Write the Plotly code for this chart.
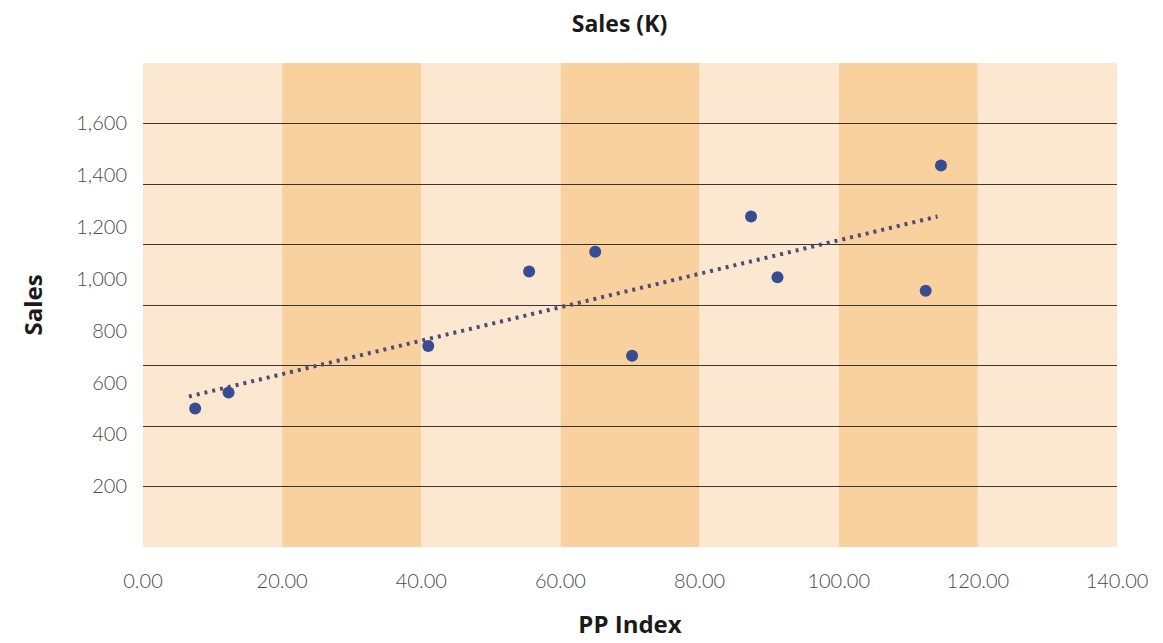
import numpy as np
import plotly.graph_objects as go

# ---- data ----
pp_index = [7.5, 12.3, 41.0, 55.5, 65.0, 70.3, 87.4, 91.2, 112.5, 114.7]
sales = [500, 562, 741, 1028, 1104, 703, 1240, 1006, 954, 1437]
trend_x = [6.6, 114.2]
x_ticks = [0, 20, 40, 60, 80, 100, 120, 140]
x_tick_text = ["0.00", "20.00", "40.00", "60.00", "80.00", "100.00", "120.00", "140.00"]
y_ticks = [200, 400, 600, 800, 1000, 1200, 1400, 1600]
y_tick_text = ["200", "400", "600", "800", "1,000", "1,200", "1,400", "1,600"]
band_edges = [0, 20, 40, 60, 80, 100, 120, 140]
grid_axis_range = [0, 1600]
grid_dtick = 200

LIGHT = "#FCE8D0"
DARK = "#F9D19F"

slope, intercept = np.polyfit(pp_index, sales, 1)
trend_y = [slope * x + intercept for x in trend_x]

fig = go.Figure()
fig.add_trace(go.Scatter(
    x=trend_x, y=trend_y, mode="lines",
    line=dict(color="#4E4A78", width=4, dash="3px,5px"),
    hoverinfo="skip", showlegend=False,
))
fig.add_trace(go.Scatter(
    x=pp_index, y=sales, mode="markers",
    marker=dict(color="#374C91", size=12),
    showlegend=False,
))
# invisible trace on the gridline axis
fig.add_trace(go.Scatter(x=[0], y=[0], yaxis="y2", mode="markers",
                         marker=dict(opacity=0), hoverinfo="skip", showlegend=False))

for i in range(len(band_edges) - 1):
    fig.add_shape(type="rect", xref="x", yref="paper",
                  x0=band_edges[i], x1=band_edges[i + 1], y0=0, y1=1,
                  fillcolor=DARK if i % 2 else LIGHT, line=dict(width=0), layer="below")

tick_font = dict(family="Lato", size=20, color="#4a4a4a", weight=300)
title_font = dict(family="Open Sans", size=24, color="#1a1a1a", weight=700)
main_title_font = dict(family="Open Sans", size=23, color="#1a1a1a", weight=700)

fig.update_layout(
    width=1163, height=643,
    margin=dict(l=135, r=54, t=55, b=104),
    paper_bgcolor="white", plot_bgcolor="white",
    title=dict(text="Sales (K)", x=0.5258, xanchor="center", y=0.9751, yanchor="middle",
               font=main_title_font),
    xaxis=dict(range=[0, 140], tickvals=x_ticks, ticktext=x_tick_text,
               showgrid=False, zeroline=False, showline=False,
               tickfont=tick_font, ticks="", ticklabelstandoff=20,
               title=dict(text="PP Index", font=title_font, standoff=25)),
    yaxis=dict(range=[-34, 1832], tickvals=y_ticks, ticktext=y_tick_text,
               showgrid=False, zeroline=False, showline=False,
               tickfont=tick_font, ticks="", ticklabelstandoff=15,
               title=dict(text="Sales", font=title_font, standoff=26)),
    yaxis2=dict(range=grid_axis_range, dtick=grid_dtick, overlaying="y",
                showgrid=True, gridcolor="#3A3530", gridwidth=1.3,
                showticklabels=False, zeroline=False, showline=False, ticks=""),
)

fig.write_html("out.html")
